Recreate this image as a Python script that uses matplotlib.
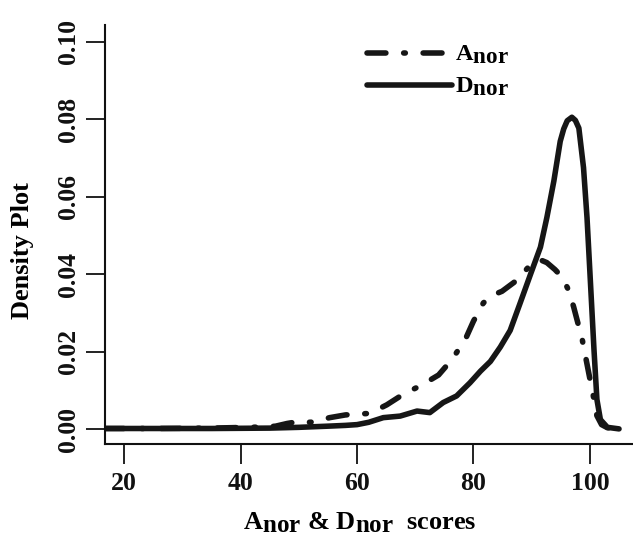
import matplotlib
matplotlib.use("Agg")
import matplotlib.pyplot as plt

try:
    import matplotlib._mathtext as _mt
    _mt.SHRINK_FACTOR = 0.95
except Exception:
    pass

plt.rcParams['font.family'] = ['Liberation Serif', 'DejaVu Serif']
plt.rcParams['font.weight'] = 'bold'
plt.rcParams['mathtext.fontset'] = 'custom'
plt.rcParams['mathtext.rm'] = 'Liberation Serif:bold'
plt.rcParams['mathtext.bf'] = 'Liberation Serif:bold'
plt.rcParams['mathtext.it'] = 'Liberation Serif:bold'

# ---- data ----
d_x = [16.7, 25, 35, 45, 50, 55, 58, 60, 62, 64.5, 67.4, 70.3, 72.5, 74.8, 77.1,
       79.4, 81.2, 82.9, 84.6, 86.3, 88.0, 89.8, 91.5, 92.6, 93.8, 94.9, 95.5,
       96.1, 96.9, 97.5, 98.1, 98.9, 99.5, 100.1, 100.7, 101.2, 101.8, 103, 105]
d_y = [0.0002, 0.0002, 0.0002, 0.0003, 0.0005, 0.0008, 0.0010, 0.0012, 0.0018,
       0.0030, 0.0034, 0.0047, 0.0043, 0.0069, 0.0086, 0.0120, 0.0150, 0.0175,
       0.0212, 0.0255, 0.0325, 0.0400, 0.0470, 0.0546, 0.0640, 0.0743, 0.0775,
       0.0796, 0.0805, 0.0797, 0.0777, 0.0675, 0.0546, 0.0376, 0.0205, 0.0077,
       0.0025, 0.0005, 0.0001]

a_x = [16.7, 25, 35, 44.4, 46, 48, 50, 52, 55.3, 58, 60, 62.2, 65.1, 67.7, 69.5,
       71.1, 74, 76.3, 78.6, 80, 81.7, 83.3, 84.9, 87.5, 90, 91.5, 92.6, 94,
       95.2, 96.3, 97.2, 98.7, 99.8, 100.7, 101.2, 102, 103, 105]
a_y = [0.0002, 0.0002, 0.0003, 0.0006, 0.0008, 0.0015, 0.0020, 0.0018, 0.0030,
       0.0037, 0.0039, 0.0041, 0.0063, 0.0088, 0.0102, 0.0114, 0.0140, 0.0180,
       0.0232, 0.0279, 0.0326, 0.0346, 0.0356, 0.0385, 0.0428, 0.0437, 0.0430,
       0.0412, 0.0393, 0.0360, 0.0316, 0.0230, 0.0145, 0.0077, 0.0035, 0.0012,
       0.0004, 0.0001]

x_ticks = [20, 40, 60, 80, 100]
y_ticks = [0.00, 0.02, 0.04, 0.06, 0.08, 0.10]
y_tick_labels = ["0.00", "0.02", "0.04", "0.06", "0.08", "0.10"]
labels = [r"A$_{\mathbf{nor}}$", r"D$_{\mathbf{nor}}$"]

# ---- figure ----
W, H, DPI = 633, 541, 100
fig = plt.figure(figsize=(W / DPI, H / DPI), dpi=DPI, facecolor='white')
ax = fig.add_axes([105 / W, (H - 444) / H, (W - 105) / W, (444 - 25) / H])

col = '#161616'
lw = 4.0
ax.plot(a_x, a_y, color=col, lw=lw, linestyle=(0, (3.4, 3.2, 0.3, 3.2)),
        dash_capstyle='round', solid_capstyle='round', label=labels[0])
ax.plot(d_x, d_y, color=col, lw=lw, solid_capstyle='round',
        solid_joinstyle='round', label=labels[1])

ax.set_xlim(16.7, 107.4)
ax.set_ylim(-0.0038, 0.1043)

for s in ['top', 'right']:
    ax.spines[s].set_visible(False)
for s in ['left', 'bottom']:
    ax.spines[s].set_linewidth(1.5)
    ax.spines[s].set_color('#111111')

ax.set_xticks(x_ticks)
ax.set_xticklabels([str(v) for v in x_ticks])
ax.set_yticks(y_ticks)
ax.set_yticklabels(y_tick_labels, rotation=90, va='center')
ax.tick_params(axis='x', direction='out', length=14.4, width=1.3, pad=5.5,
               labelsize=18.5, colors='#111111')
ax.tick_params(axis='y', direction='out', length=13.7, width=1.3, pad=4.3,
               labelsize=18.5, colors='#111111')
for t in ax.get_xticklabels() + ax.get_yticklabels():
    t.set_fontweight('bold')

fig.text(22 / W, (H - 251) / H, "Density Plot", rotation=90, ha='center',
         va='center', fontsize=19, fontweight='bold')
fig.text(359.5 / W, 12 / H, r"A$_{\mathbf{nor}}$ & D$_{\mathbf{nor}}$  scores",
         ha='center', va='baseline', fontsize=19, fontweight='bold')

leg = ax.legend(loc='upper left',
                bbox_to_anchor=((366.7 - 105) / (W - 105), (444 - 44) / (444 - 25)),
                frameon=False, handlelength=3.5, handletextpad=0.12,
                borderpad=0, borderaxespad=0, labelspacing=0.4,
                prop={'weight': 'bold', 'size': 17.5})

fig.savefig('out.png', dpi=DPI, facecolor='white')
